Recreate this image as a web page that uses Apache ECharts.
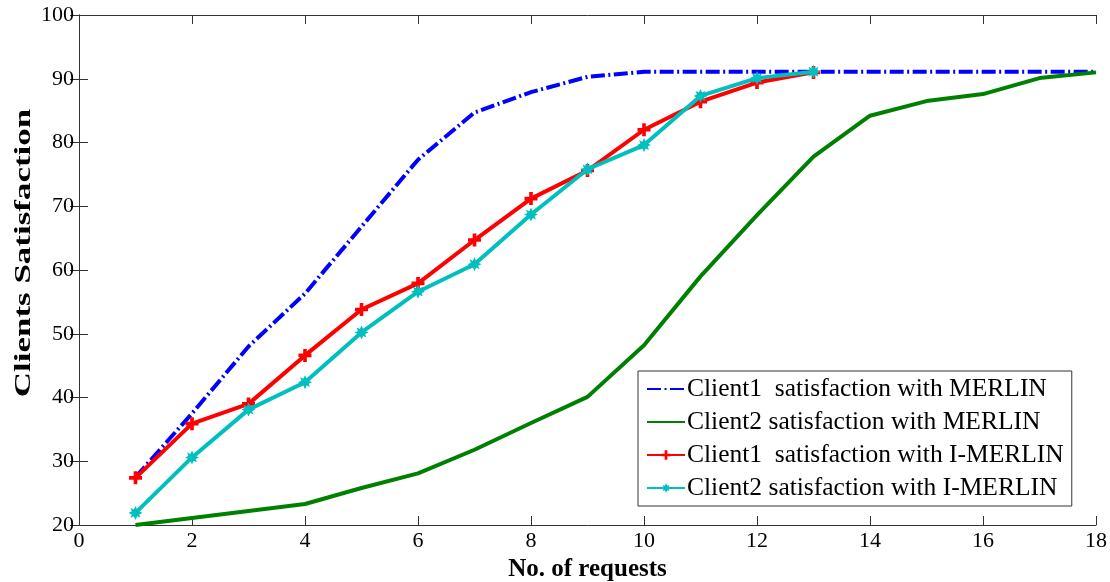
<!DOCTYPE html>
<html>
<head>
<meta charset="utf-8">
<script src="https://cdn.jsdelivr.net/npm/echarts@6/dist/echarts.min.js"></script>
<style>
  html, body { margin: 0; padding: 0; background: #fff; }
  #chart { width: 1110px; height: 582px; }
</style>
</head>
<body>
<div id="chart"></div>
<script>
// Number of requests (x) for each series
const requestsMerlin = [1, 2, 3, 4, 5, 6, 7, 8, 9, 10, 11, 12, 13, 14, 15, 16, 17, 18];
const requestsIMerlin = [1, 2, 3, 4, 5, 6, 7, 8, 9, 10, 11, 12, 13];

// Satisfaction values
const client1Merlin = [27.5, 37.5, 48.0, 56.3, 66.8, 77.3, 84.7, 87.9, 90.3, 91.1, 91.1, 91.1, 91.1, 91.1, 91.1, 91.1, 91.1, 91.1];
const client2Merlin = [20.0, 21.1, 22.2, 23.3, 25.8, 28.1, 31.8, 36.0, 40.1, 48.2, 59.0, 68.6, 77.8, 84.2, 86.5, 87.6, 90.1, 91.0];
const client1IMerlin = [27.4, 35.9, 39.0, 46.6, 53.8, 57.9, 64.7, 71.2, 75.6, 82.0, 86.4, 89.4, 91.0];
const client2IMerlin = [21.9, 30.6, 38.1, 42.4, 50.2, 56.6, 60.9, 68.7, 75.8, 79.6, 87.3, 90.1, 91.1];

const seriesNames = [
  'Client1  satisfaction with MERLIN',
  'Client2 satisfaction with MERLIN',
  'Client1  satisfaction with I-MERLIN',
  'Client2 satisfaction with I-MERLIN'
];
const xTitle = 'No. of requests';
const yTitle = 'Clients Satisfaction';

const pairs = (xs, ys) => xs.map((x, i) => [x, ys[i]]);

const serif = '"Liberation Serif", "DejaVu Serif", serif';
// marker shapes
const plusPath = 'path://M3.6,0 H6.4 V3.6 H10 V6.4 H6.4 V10 H3.6 V6.4 H0 V3.6 H3.6 Z';
const starPath = 'path://M5,0 L6.2,2.6 L8.5,1.5 L7.6,3.9 L10,5 L7.6,6.1 L8.5,8.5 L6.2,7.4 L5,10 L3.8,7.4 L1.5,8.5 L2.4,6.1 L0,5 L2.4,3.9 L1.5,1.5 L3.8,2.6 Z';

const axisLine = { show: true, lineStyle: { color: '#333', width: 1 } };
const tickIn = { show: true, inside: true, length: 9, lineStyle: { color: '#333' } };

const chart = echarts.init(document.getElementById('chart'), null, { renderer: 'canvas' });

chart.setOption({
  backgroundColor: '#fff',
  animation: false,
  grid: { left: 79, right: 14, top: 15, bottom: 57, containLabel: false, outerBoundsMode: 'none' },
  // vertical axis title, stretched along its length
  graphic: [{
    type: 'text',
    x: 24, y: 253,
    rotation: Math.PI / 2,
    scaleX: 1.52,
    style: {
      text: yTitle,
      font: 'bold 23px ' + serif,
      fill: '#000',
      align: 'center',
      verticalAlign: 'middle'
    }
  }],
  xAxis: [
    {
      type: 'value', min: 0, max: 18, interval: 2, position: 'bottom',
      name: xTitle, nameLocation: 'middle', nameGap: 32,
      nameTextStyle: { fontFamily: serif, fontSize: 25, fontWeight: 'bold', color: '#000' },
      axisLine, axisTick: tickIn, splitLine: { show: false },
      axisLabel: { fontFamily: serif, fontSize: 22, color: '#000', margin: 5 }
    },
    {
      type: 'value', min: 0, max: 18, interval: 2, position: 'top',
      axisLine, axisTick: tickIn, splitLine: { show: false }, axisLabel: { show: false }
    }
  ],
  yAxis: [
    {
      type: 'value', min: 20, max: 100, interval: 10, position: 'left',
      axisLine, axisTick: tickIn, splitLine: { show: false },
      axisLabel: { fontFamily: serif, fontSize: 22, color: '#000', margin: 5 }
    },
    {
      type: 'value', min: 20, max: 100, interval: 10, position: 'right',
      axisLine, axisTick: tickIn, splitLine: { show: false }, axisLabel: { show: false }
    }
  ],
  legend: {
    orient: 'vertical',
    left: 638, top: 371,
    padding: [5, 8, 5, 8],
    itemGap: 7,
    itemWidth: 38, itemHeight: 12,
    backgroundColor: '#fff',
    borderColor: '#333', borderWidth: 1, borderRadius: 0,
    textStyle: { fontFamily: serif, fontSize: 25.5, lineHeight: 26, color: '#000', padding: [0, 0, 0, -3] },
    data: [
      { name: seriesNames[0], itemStyle: { opacity: 0 } },
      { name: seriesNames[1], itemStyle: { opacity: 0 } },
      { name: seriesNames[2] },
      { name: seriesNames[3] }
    ]
  },
  series: [
    {
      name: seriesNames[0], type: 'line', data: pairs(requestsMerlin, client1Merlin),
      showSymbol: false, symbol: 'none', z: 2,
      lineStyle: { color: '#0000ff', width: 4, type: [14, 3.5, 2, 3.5] },
      itemStyle: { color: '#0000ff' }
    },
    {
      name: seriesNames[1], type: 'line', data: pairs(requestsMerlin, client2Merlin),
      showSymbol: false, symbol: 'none', z: 2,
      lineStyle: { color: '#008000', width: 4 },
      itemStyle: { color: '#008000' }
    },
    {
      name: seriesNames[2], type: 'line', data: pairs(requestsIMerlin, client1IMerlin),
      symbol: plusPath, symbolSize: 13, z: 3,
      lineStyle: { color: '#ff0000', width: 4 },
      itemStyle: { color: '#ff0000' }
    },
    {
      name: seriesNames[3], type: 'line', data: pairs(requestsIMerlin, client2IMerlin),
      symbol: starPath, symbolSize: 14, z: 4,
      lineStyle: { color: '#00bfbf', width: 4 },
      itemStyle: { color: '#00bfbf' }
    }
  ]
});
</script>
</body>
</html>
